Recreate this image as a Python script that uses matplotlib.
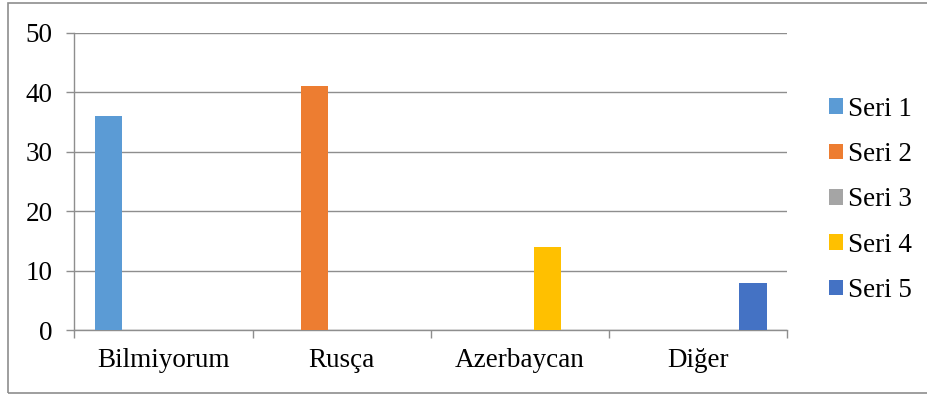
import matplotlib
matplotlib.use("Agg")
import matplotlib.pyplot as plt
from matplotlib.patches import Rectangle
import numpy as np

categories = ["Bilmiyorum", "Rusça", "Azerbaycan", "Diğer"]
series_names = ["Seri 1", "Seri 2", "Seri 3", "Seri 4", "Seri 5"]
seri_1 = [36, 0, 0, 0]
seri_2 = [0, 41, 0, 0]
seri_3 = [0, 0, 0, 0]
seri_4 = [0, 0, 14, 0]
seri_5 = [0, 0, 0, 8]
series_values = [seri_1, seri_2, seri_3, seri_4, seri_5]
colors = ["#5B9BD5", "#ED7D31", "#A5A5A5", "#FFC000", "#4472C4"]
y_ticks = [0, 10, 20, 30, 40, 50]

plt.rcParams["font.family"] = ["Liberation Serif", "DejaVu Serif"]
FS = 19.5
GRID = "#8e8e8e"

fig = plt.figure(figsize=(9.28, 3.96), dpi=100)
ax = fig.add_axes([74.3 / 928, 1 - 330.3 / 396, (787.3 - 74.3) / 928, (330.3 - 32.7) / 396])

# clustered columns: 5 slots per category with a 150% gap
n = len(series_values)
slot = 1 / (n + 1.5)
x = np.arange(len(categories))
handles = []
for j, (vals, col, name) in enumerate(zip(series_values, colors, series_names)):
    offs = (j - (n - 1) / 2) * slot
    b = ax.bar(x + offs, vals, width=slot, color=col, label=name, zorder=3, linewidth=0)
    handles.append(b)

ax.set_xlim(-0.5, len(categories) - 0.5)
ax.set_ylim(0, 50)
ax.set_yticks(y_ticks)
ax.set_yticklabels([str(v) for v in y_ticks], fontsize=FS)
ax.yaxis.grid(True, color=GRID, linewidth=1.0, zorder=0)
ax.set_axisbelow(True)

ax.set_xticks(x)
ax.set_xticklabels(categories, fontsize=FS)
ax.set_xticks(np.arange(len(categories) + 1) - 0.5, minor=True)
ax.tick_params(axis="x", which="major", length=0, pad=13)
ax.tick_params(axis="x", which="minor", length=6, width=1, color=GRID, direction="out")
ax.tick_params(axis="y", length=5.5, width=1, color=GRID, direction="out", pad=10)

for s in ["top", "right"]:
    ax.spines[s].set_visible(False)
for s in ["left", "bottom"]:
    ax.spines[s].set_color(GRID)
    ax.spines[s].set_linewidth(1.0)

fig.legend(handles=handles, labels=series_names, loc="center left",
           bbox_to_anchor=(829 / 928, 1 - 200 / 396), frameon=False,
           fontsize=FS, handlelength=0.52, handleheight=0.52,
           handletextpad=0.18, labelspacing=0.75, borderpad=0, borderaxespad=0)

# outer chart frame
fig.add_artist(Rectangle((7.7 / 928, 1 - 393.3 / 396), 1.0, (393.3 - 3.3) / 396,
                         transform=fig.transFigure, fill=False,
                         edgecolor=GRID, linewidth=1.2, clip_on=False))

fig.savefig("out.png", dpi=100)
